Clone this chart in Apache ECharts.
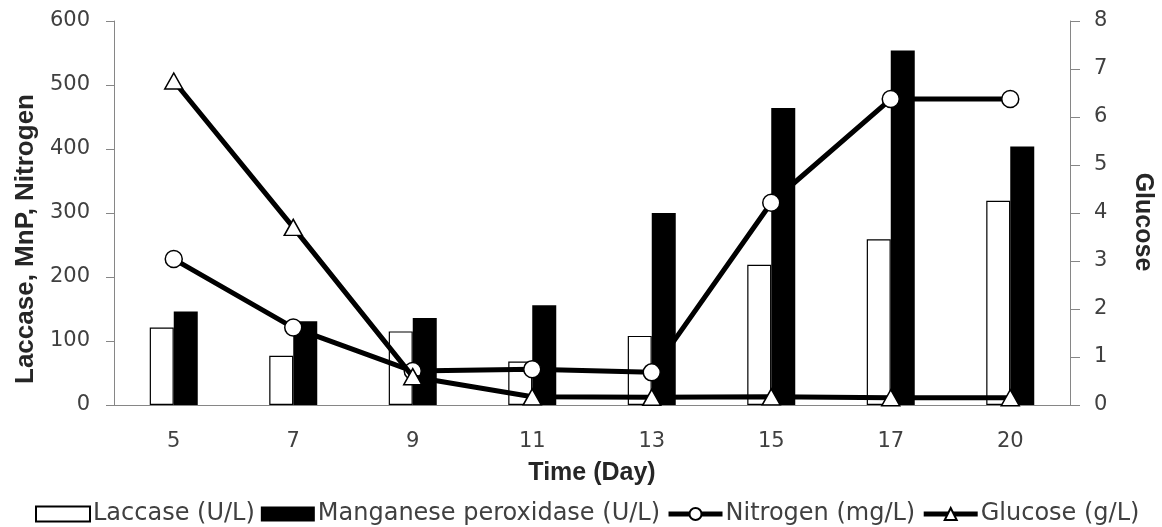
<!DOCTYPE html>
<html>
<head>
<meta charset="utf-8">
<script src="https://cdn.jsdelivr.net/npm/echarts@6/dist/echarts.min.js"></script>
<style>
html,body{margin:0;padding:0;background:#fff;}
#chart{width:1162px;height:527px;}
</style>
</head>
<body>
<div id="chart"></div>
<script>
const days = ['5', '7', '9', '11', '13', '15', '17', '20'];
const laccase = [121, 77, 115, 68, 108, 219, 259, 319];
const mnp = [146, 131, 136, 156, 300, 464, 554, 404];
const nitrogen = [228, 121, 53, 56, 51, 316, 478, 478];
const glucose = [6.75, 3.7, 0.59, 0.17, 0.16, 0.17, 0.15, 0.15];
const leftTicks = [0, 100, 600];
const rightTicks = [0, 1, 8];

const axisGray = '#868686';
const tickFont = 'DejaVu Sans';
const titleFont = 'Liberation Sans';

const chart = echarts.init(document.getElementById('chart'));
chart.setOption({
  animation: false,
  backgroundColor: '#fff',
  grid: {left: 114, right: 92, top: 21, bottom: 122, containLabel: false},
  legend: {
    left: 30,
    top: 497,
    itemWidth: 54,
    itemHeight: 15,
    itemGap: 6,
    lineStyle: {width: 5, color: '#000'},
    textStyle: {fontFamily: tickFont, fontSize: 24, color: '#404040', padding: [0, 0, 0, -2]},
    data: [
      {name: 'Laccase (U/L)', icon: 'rect'},
      {name: 'Manganese peroxidase (U/L)', icon: 'rect'},
      {name: 'Nitrogen (mg/L)'},
      {name: 'Glucose (g/L)'}
    ]
  },
  xAxis: {
    type: 'category',
    data: days,
    axisLine: {show: true, lineStyle: {color: axisGray, width: 1}},
    axisTick: {show: false},
    axisLabel: {fontFamily: tickFont, fontSize: 21, color: '#404040', margin: 26}
  },
  yAxis: [
    {
      type: 'value',
      min: leftTicks[0], max: leftTicks[2], interval: leftTicks[1],
      splitLine: {show: false},
      axisLine: {show: true, lineStyle: {color: axisGray, width: 1}},
      axisTick: {show: true, inside: false, length: 8, lineStyle: {color: axisGray}},
      axisLabel: {fontFamily: tickFont, fontSize: 21, color: '#404040', margin: 24}
    },
    {
      type: 'value',
      position: 'right',
      min: rightTicks[0], max: rightTicks[2], interval: rightTicks[1],
      splitLine: {show: false},
      axisLine: {show: true, lineStyle: {color: axisGray, width: 1}},
      axisTick: {show: true, inside: false, length: 10, lineStyle: {color: axisGray}},
      axisLabel: {fontFamily: tickFont, fontSize: 21, color: '#404040', margin: 24}
    }
  ],
  series: [
    {
      name: 'Laccase (U/L)',
      type: 'bar',
      data: laccase,
      barWidth: 24,
      barGap: '0%',
      itemStyle: {color: '#ffffff', borderColor: '#000', borderWidth: 1.2}
    },
    {
      name: 'Manganese peroxidase (U/L)',
      type: 'bar',
      data: mnp,
      barWidth: 24,
      barGap: '0%',
      itemStyle: {color: '#000000', borderColor: '#000', borderWidth: 0}
    },
    {
      name: 'Nitrogen (mg/L)',
      type: 'line',
      data: nitrogen,
      symbol: 'circle',
      symbolSize: 17,
      showAllSymbol: true,
      lineStyle: {color: '#000', width: 5},
      itemStyle: {color: '#fff', borderColor: '#000', borderWidth: 1.5},
      z: 3
    },
    {
      name: 'Glucose (g/L)',
      type: 'line',
      yAxisIndex: 1,
      data: glucose,
      symbol: 'triangle',
      symbolSize: [18, 16],
      showAllSymbol: true,
      lineStyle: {color: '#000', width: 5},
      itemStyle: {color: '#fff', borderColor: '#000', borderWidth: 1.5},
      z: 4
    }
  ],
  graphic: [
    {
      type: 'text', x: 26, y: 239, rotation: Math.PI / 2,
      style: {text: 'Laccase, MnP, Nitrogen', fontFamily: titleFont, fontWeight: 'bold', fontSize: 26,
        fill: '#262626', textAlign: 'center', textVerticalAlign: 'middle'}
    },
    {
      type: 'text', x: 1143, y: 222, rotation: -Math.PI / 2,
      style: {text: 'Glucose', fontFamily: titleFont, fontWeight: 'bold', fontSize: 25,
        fill: '#262626', textAlign: 'center', textVerticalAlign: 'middle'}
    },
    {
      type: 'text', x: 592, y: 473,
      style: {text: 'Time (Day)', fontFamily: titleFont, fontWeight: 'bold', fontSize: 25,
        fill: '#262626', textAlign: 'center', textVerticalAlign: 'middle'}
    }
  ]
});
</script>
</body>
</html>
